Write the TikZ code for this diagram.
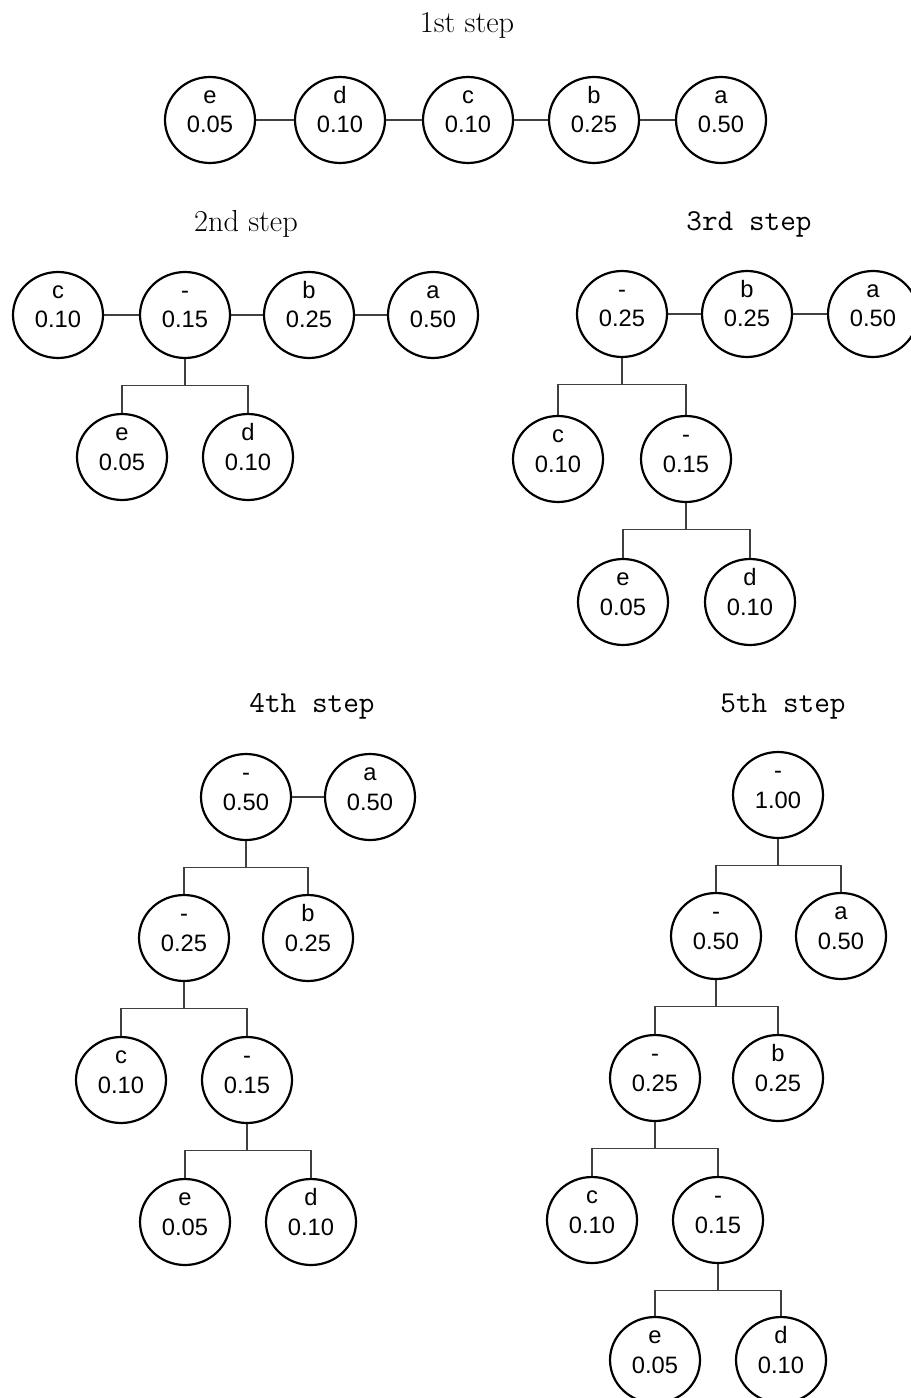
\documentclass[tikz,border=0pt]{standalone}
\usepackage{fontspec}
\newfontfamily\arialfont{Liberation Sans}
\usetikzlibrary{shapes.geometric}
\newcommand{\hlab}[2]{%
  \makebox[0pt]{\raisebox{9.6pt}[0pt][0pt]{#1}}%
  \makebox[0pt]{\raisebox{-7.4pt}[0pt][0pt]{#2}}}

\begin{document}
\begin{tikzpicture}[x=0.02cm, y=-0.02cm,
	hnode/.style={draw, ellipse, line width=1.25pt, minimum width=1.8cm, minimum height=1.72cm, inner sep=0pt, font=\arialfont\fontsize{13.5}{16}\selectfont},
	link/.style={line width=0.6pt, black!75},
	rmtitle/.style={anchor=base, font=\fontsize{17.28}{20}\selectfont},
	tttitle/.style={anchor=base, font=\ttfamily\fontsize{17.28}{20}\selectfont}]

			\useasboundingbox (0,0) rectangle (910,1398);

			% 1st step
			\node[rmtitle] (t1) at (467,33) {1st step};
			\node[hnode] (s1e) at (210,120) {\hlab{e}{0.05}};
			\node[hnode] (s1d) at (340,120) {\hlab{d}{0.10}};
			\node[hnode] (s1c) at (468,120) {\hlab{c}{0.10}};
			\node[hnode] (s1b) at (594,120) {\hlab{b}{0.25}};
			\node[hnode] (s1a) at (721,120) {\hlab{a}{0.50}};

			% 2nd step
			\node[rmtitle] (t2) at (246,232) {2nd step};
			\node[hnode] (s2c) at (58,315) {\hlab{c}{0.10}};
			\node[hnode] (s2m15) at (185,315) {\hlab{-}{0.15}};
			\node[hnode] (s2b) at (309,315) {\hlab{b}{0.25}};
			\node[hnode] (s2a) at (433,315) {\hlab{a}{0.50}};
			\node[hnode] (s2e) at (122,457) {\hlab{e}{0.05}};
			\node[hnode] (s2d) at (248,457) {\hlab{d}{0.10}};

			% 3rd step
			\node[tttitle] (t3) at (749,231) {3rd step};
			\node[hnode] (s3m25) at (622,314) {\hlab{-}{0.25}};
			\node[hnode] (s3b) at (747,314) {\hlab{b}{0.25}};
			\node[hnode] (s3a) at (873,314) {\hlab{a}{0.50}};
			\node[hnode] (s3c) at (558,459) {\hlab{c}{0.10}};
			\node[hnode] (s3m15) at (686,459) {\hlab{-}{0.15}};
			\node[hnode] (s3e) at (623,602) {\hlab{e}{0.05}};
			\node[hnode] (s3d) at (750,602) {\hlab{d}{0.10}};

			% 4th step
			\node[tttitle] (t4) at (312,712) {4th step};
			\node[hnode] (s4m50) at (246,797) {\hlab{-}{0.50}};
			\node[hnode] (s4a) at (370,797) {\hlab{a}{0.50}};
			\node[hnode] (s4m25) at (184,938) {\hlab{-}{0.25}};
			\node[hnode] (s4b) at (308,938) {\hlab{b}{0.25}};
			\node[hnode] (s4c) at (121,1080) {\hlab{c}{0.10}};
			\node[hnode] (s4m15) at (247,1080) {\hlab{-}{0.15}};
			\node[hnode] (s4e) at (185,1222) {\hlab{e}{0.05}};
			\node[hnode] (s4d) at (311,1222) {\hlab{d}{0.10}};

			% 5th step
			\node[tttitle] (t5) at (783,712) {5th step};
			\node[hnode] (s5m100) at (778,795) {\hlab{-}{1.00}};
			\node[hnode] (s5m50) at (716,936) {\hlab{-}{0.50}};
			\node[hnode] (s5a) at (841,936) {\hlab{a}{0.50}};
			\node[hnode] (s5m25) at (655,1078) {\hlab{-}{0.25}};
			\node[hnode] (s5b) at (778,1078) {\hlab{b}{0.25}};
			\node[hnode] (s5c) at (592,1220) {\hlab{c}{0.10}};
			\node[hnode] (s5m15) at (718,1220) {\hlab{-}{0.15}};
			\node[hnode] (s5e) at (655,1360) {\hlab{e}{0.05}};
			\node[hnode] (s5d) at (781,1360) {\hlab{d}{0.10}};

			% List links
			\foreach \u/\v in {s1e/s1d, s1d/s1c, s1c/s1b, s1b/s1a,
				s2c/s2m15, s2m15/s2b, s2b/s2a,
				s3m25/s3b, s3b/s3a, s4m50/s4a}
				\draw[link] (\u) -- (\v);

			% Tree links
			\foreach \p/\l/\r in {s2m15/s2e/s2d,
				s3m25/s3c/s3m15, s3m15/s3e/s3d,
				s4m50/s4m25/s4b, s4m25/s4c/s4m15, s4m15/s4e/s4d,
				s5m100/s5m50/s5a, s5m50/s5m25/s5b, s5m25/s5c/s5m15, s5m15/s5e/s5d}
			{
				\draw[link] (\p.south) -- ++(0,26) coordinate (j);
				\draw[link] (\l.north) |- (j) -| (\r.north);
			}

		\end{tikzpicture}
\end{document}
